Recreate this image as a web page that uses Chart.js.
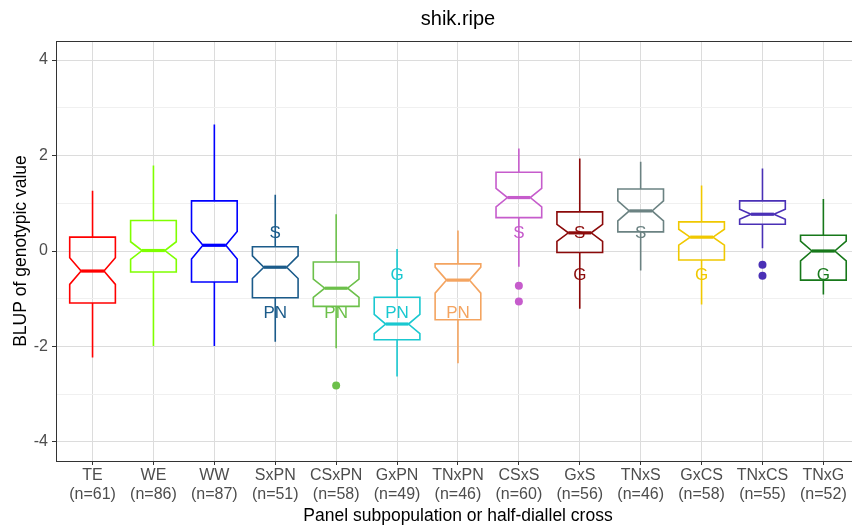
<!DOCTYPE html>
<html>
<head>
<meta charset="utf-8">
<script src="https://cdn.jsdelivr.net/npm/chart.js@4"></script>
<style>
  html, body { margin: 0; padding: 0; background: #fff; overflow: hidden; }
</style>
</head>
<body>
<canvas id="chart" width="852" height="530"></canvas>
<script>
// groups and their sizes
var cats = ['TE', 'WE', 'WW', 'SxPN', 'CSxPN', 'GxPN', 'TNxPN', 'CSxS', 'GxS', 'TNxS', 'GxCS', 'TNxCS', 'TNxG'];
var counts = [61, 86, 87, 51, 58, 49, 46, 60, 56, 46, 58, 55, 52];

// box statistics (BLUP of genotypic value)
var whiskerLow  = [-2.23, -1.99, -1.99, -1.90, -2.04, -2.63, -2.35, -0.33, -1.21, -0.41, -1.12, 0.06, -0.91];
var q1          = [-1.09, -0.44, -0.65, -0.98, -1.16, -1.86, -1.44, 0.70, -0.03, 0.40, -0.19, 0.56, -0.61];
var medians     = [-0.42, 0.01, 0.12, -0.34, -0.78, -1.53, -0.61, 1.12, 0.38, 0.84, 0.29, 0.77, 0.00];
var q3          = [0.29, 0.64, 1.05, 0.09, -0.23, -0.97, -0.27, 1.65, 0.82, 1.30, 0.61, 1.05, 0.33];
var whiskerHigh = [1.26, 1.79, 2.65, 1.18, 0.77, 0.04, 0.43, 2.15, 1.94, 1.87, 1.37, 1.73, 1.09];

// outlying points
var outlierCat = [4, 7, 7, 11, 11];
var outlierVal = [-2.82, -0.73, -1.06, -0.29, -0.52];

// parent-group tags written in the panel
var tagCat  = [3, 3, 4, 5, 5, 6, 7, 8, 8, 9, 10, 12];
var tagText = ['S', 'PN', 'PN', 'G', 'PN', 'PN', 'S', 'S', 'G', 'S', 'G', 'G'];
var tagVal  = [0.38, -1.3, -1.3, -0.5, -1.3, -1.3, 0.38, 0.38, -0.5, 0.38, -0.5, -0.5];

var colors = ['#FF0000', '#7FFF00', '#0000FF', '#1B5B8A', '#6CC04A', '#19C8D0', '#F4A460',
              '#C65CCC', '#8B0A0A', '#6B8282', '#F0C800', '#4A30B6', '#17781A'];

var yTicks = [-4, -2, 0, 2, 4];
var boxWidth = 0.75;

Chart.defaults.font.family = '"Liberation Sans", Arial, sans-serif';

var boxPlugin = {
  id: 'boxes',
  beforeDatasetsDraw: function(chart) {
    var ctx = chart.ctx, x = chart.scales.x, y = chart.scales.y;
    ctx.save();
    cats.forEach(function(c, i) {
      var cx = x.getPixelForValue(i);
      var half = x.getPixelForValue(i + boxWidth / 2) - cx;
      var nd = 1.58 * (q3[i] - q1[i]) / Math.sqrt(counts[i]);
      var nHi = Math.min(medians[i] + nd, q3[i]);
      var nLo = Math.max(medians[i] - nd, q1[i]);
      var L = cx - half, R = cx + half, nl = cx - half / 2, nr = cx + half / 2;
      ctx.strokeStyle = colors[i];
      ctx.lineWidth = 1.6;
      ctx.lineJoin = 'miter';
      // whiskers
      ctx.beginPath();
      ctx.moveTo(cx, y.getPixelForValue(q3[i]));
      ctx.lineTo(cx, y.getPixelForValue(whiskerHigh[i]));
      ctx.moveTo(cx, y.getPixelForValue(q1[i]));
      ctx.lineTo(cx, y.getPixelForValue(whiskerLow[i]));
      ctx.stroke();
      // notched box
      ctx.beginPath();
      ctx.moveTo(L, y.getPixelForValue(q3[i]));
      ctx.lineTo(L, y.getPixelForValue(nHi));
      ctx.lineTo(nl, y.getPixelForValue(medians[i]));
      ctx.lineTo(L, y.getPixelForValue(nLo));
      ctx.lineTo(L, y.getPixelForValue(q1[i]));
      ctx.lineTo(R, y.getPixelForValue(q1[i]));
      ctx.lineTo(R, y.getPixelForValue(nLo));
      ctx.lineTo(nr, y.getPixelForValue(medians[i]));
      ctx.lineTo(R, y.getPixelForValue(nHi));
      ctx.lineTo(R, y.getPixelForValue(q3[i]));
      ctx.closePath();
      ctx.stroke();
      // median
      ctx.lineWidth = 3.2;
      ctx.beginPath();
      ctx.moveTo(nl, y.getPixelForValue(medians[i]));
      ctx.lineTo(nr, y.getPixelForValue(medians[i]));
      ctx.stroke();
    });
    ctx.restore();
  },
  afterDatasetsDraw: function(chart) {
    var ctx = chart.ctx, x = chart.scales.x, y = chart.scales.y, a = chart.chartArea;
    ctx.save();
    ctx.font = '17px "Liberation Sans", Arial, sans-serif';
    ctx.textAlign = 'center';
    ctx.textBaseline = 'middle';
    tagText.forEach(function(t, k) {
      ctx.fillStyle = colors[tagCat[k]];
      ctx.fillText(t, x.getPixelForValue(tagCat[k]), y.getPixelForValue(tagVal[k]));
    });
    // panel border (its right side falls just outside the picture)
    ctx.strokeStyle = '#333333';
    ctx.lineWidth = 1;
    ctx.strokeRect(a.left + 0.5, a.top + 0.5, a.right - a.left + 2, a.bottom - a.top);
    // titles
    var mid = 458;
    ctx.fillStyle = '#000';
    ctx.textBaseline = 'alphabetic';
    ctx.font = '20px "Liberation Sans", Arial, sans-serif';
    ctx.fillText('shik.ripe', mid, 25);
    ctx.font = '17.5px "Liberation Sans", Arial, sans-serif';
    ctx.fillText('Panel subpopulation or half-diallel cross', mid, 521);
    ctx.translate(26, (a.top + a.bottom) / 2);
    ctx.rotate(-Math.PI / 2);
    ctx.fillText('BLUP of genotypic value', 0, 0);
    ctx.restore();
  }
};

var outlierData = outlierCat.map(function(c, k) { return { x: c, y: outlierVal[k] }; });

new Chart(document.getElementById('chart'), {
  type: 'scatter',
  data: {
    datasets: [{
      data: outlierData,
      pointBackgroundColor: outlierCat.map(function(c) { return colors[c]; }),
      pointBorderWidth: 0,
      pointRadius: 4
    }]
  },
  options: {
    responsive: false,
    animation: false,
    devicePixelRatio: 1,
    layout: { autoPadding: false, padding: { top: 41, left: 0, right: 0, bottom: 0 } },
    plugins: { legend: { display: false }, tooltip: { enabled: false }, title: { display: false } },
    scales: {
      x: {
        type: 'linear',
        min: -0.6,
        max: 12.47,
        afterBuildTicks: function(s) {
          s.ticks = cats.map(function(c, i) { return { value: i }; });
        },
        afterFit: function(s) {
          s.height = 69;
          s.paddingLeft = 0;
          s.paddingRight = 0;
        },
        border: { display: false },
        grid: { color: '#DCDCDC', lineWidth: 1, tickLength: 4, tickColor: '#333333' },
        ticks: {
          autoSkip: false,
          maxRotation: 0,
          padding: 1,
          color: '#4D4D4D',
          font: { size: 16, lineHeight: 1.2 },
          callback: function(v) { return [cats[v], '(n=' + counts[v] + ')']; }
        }
      },
      y: {
        type: 'linear',
        min: -4.4,
        max: 4.4,
        afterBuildTicks: function(s) {
          var t = [];
          for (var v = -4; v <= 4; v++) t.push({ value: v });
          s.ticks = t;
        },
        afterFit: function(s) { s.width = 56; },
        border: { display: false },
        grid: {
          lineWidth: 1,
          tickLength: 4,
          color: function(c) { return c.tick && yTicks.indexOf(c.tick.value) >= 0 ? '#DCDCDC' : '#F0F0F0'; },
          tickColor: function(c) { return c.tick && yTicks.indexOf(c.tick.value) >= 0 ? '#333333' : 'rgba(0,0,0,0)'; }
        },
        ticks: {
          padding: 4,
          color: '#4D4D4D',
          font: { size: 16 },
          callback: function(v) { return yTicks.indexOf(v) >= 0 ? String(v) : ''; }
        }
      }
    }
  },
  plugins: [boxPlugin]
});
</script>
</body>
</html>
